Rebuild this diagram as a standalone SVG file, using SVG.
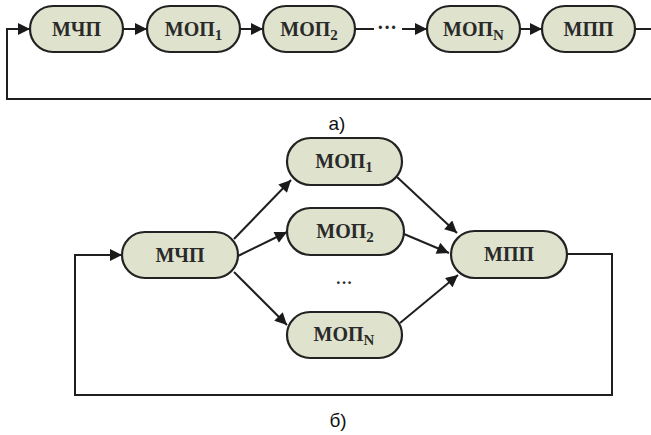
<svg xmlns="http://www.w3.org/2000/svg" width="651" height="435" viewBox="0 0 651 435">
  <defs>
    <marker id="arr" viewBox="0 0 10 10" refX="10" refY="5" markerWidth="6.5" markerHeight="6" orient="auto" markerUnits="strokeWidth">
      <path d="M0,0 L10,5 L0,10 z" fill="#1a1a1a"/>
    </marker>
    <style>
      .node { fill: #dfe3cd; stroke: #222; stroke-width: 2.2; }
      .lbl { font-family: "Liberation Serif", "Times New Roman", serif; font-weight: bold; font-size: 20px; fill: #2a2a2a; text-anchor: middle; }
      .sub { font-size: 15px; }
      .edge { fill: none; stroke: #1f1f1f; stroke-width: 2; }
      .cap { font-family: "Liberation Sans", Arial, sans-serif; font-size: 19px; fill: #111; text-anchor: middle; }
    </style>
  </defs>

  <!-- а) chain layout -->
  <g id="connectors-a">
    <path class="edge" d="M651,99 L7,99 L7,29 L30,29" marker-end="url(#arr)"/>
    <path class="edge" d="M123,29 L147,29" marker-end="url(#arr)"/>
    <path class="edge" d="M240,29 L263,29" marker-end="url(#arr)"/>
    <path class="edge" d="M355,29 L374,29"/>
    <path class="edge" d="M402,29 L427,29" marker-end="url(#arr)"/>
    <path class="edge" d="M520,29 L542,29" marker-end="url(#arr)"/>
    <path class="edge" d="M635,29 L651,29"/>
  </g>
  <text class="lbl" x="387" y="34">···</text>

  <g id="a-mchp">
    <rect class="node" x="30" y="6" width="93" height="46" rx="23"/>
    <text class="lbl" x="76.5" y="36">МЧП</text>
  </g>
  <g id="a-mop1">
    <rect class="node" x="147" y="6" width="93" height="46" rx="23"/>
    <text class="lbl" x="193.5" y="36">МОП<tspan class="sub" dy="4">1</tspan></text>
  </g>
  <g id="a-mop2">
    <rect class="node" x="263" y="6" width="92" height="46" rx="23"/>
    <text class="lbl" x="309" y="36">МОП<tspan class="sub" dy="4">2</tspan></text>
  </g>
  <g id="a-mopn">
    <rect class="node" x="427" y="6" width="93" height="46" rx="23"/>
    <text class="lbl" x="473.5" y="36">МОП<tspan class="sub" dy="4">N</tspan></text>
  </g>
  <g id="a-mpp">
    <rect class="node" x="542" y="6" width="93" height="46" rx="23"/>
    <text class="lbl" x="588.5" y="36">МПП</text>
  </g>
  <text class="cap" x="337" y="130">а)</text>

  <!-- б) parallel layout -->
  <g id="connectors-b">
    <path class="edge" d="M567,254 L612,254 L612,395 L75,395 L75,255 L122,255" marker-end="url(#arr)"/>
    <path class="edge" d="M234,239 L291,180" marker-end="url(#arr)"/>
    <path class="edge" d="M238,256 L287,232" marker-end="url(#arr)"/>
    <path class="edge" d="M234,272 L287,325" marker-end="url(#arr)"/>
    <path class="edge" d="M397,177 L457,233" marker-end="url(#arr)"/>
    <path class="edge" d="M404,234 L449,253" marker-end="url(#arr)"/>
    <path class="edge" d="M400,323 L458,275" marker-end="url(#arr)"/>
  </g>
  <text class="lbl" x="344" y="288" style="font-size:17px">···</text>

  <g id="b-mchp">
    <rect class="node" x="122" y="232" width="116" height="46" rx="23"/>
    <text class="lbl" x="180" y="262">МЧП</text>
  </g>
  <g id="b-mop1">
    <rect class="node" x="287" y="138" width="115" height="47" rx="23.5"/>
    <text class="lbl" x="344" y="168">МОП<tspan class="sub" dy="4">1</tspan></text>
  </g>
  <g id="b-mop2">
    <rect class="node" x="287" y="208" width="117" height="47" rx="23.5"/>
    <text class="lbl" x="345" y="238">МОП<tspan class="sub" dy="4">2</tspan></text>
  </g>
  <g id="b-mopn">
    <rect class="node" x="287" y="312" width="115" height="46" rx="23"/>
    <text class="lbl" x="344" y="341">МОП<tspan class="sub" dy="4">N</tspan></text>
  </g>
  <g id="b-mpp">
    <rect class="node" x="451" y="231" width="116" height="47" rx="23.5"/>
    <text class="lbl" x="509" y="261">МПП</text>
  </g>
  <text class="cap" x="338" y="427">б)</text>
</svg>
